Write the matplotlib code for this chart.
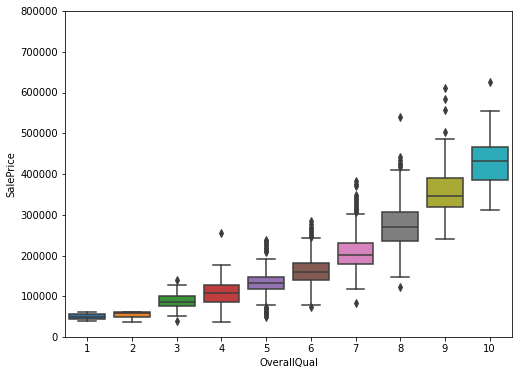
import matplotlib
matplotlib.use("Agg")
import matplotlib.pyplot as plt

# box statistics, one entry per OverallQual level
quals = [1, 2, 3, 4, 5, 6, 7, 8, 9, 10]
medians = [50150, 58000, 86500, 108500, 133000, 160000, 202000, 270000, 346000, 432000]
q1s = [44700, 50000, 76000, 86600, 118000, 140000, 179000, 235500, 320000, 385000]
q3s = [55600, 62500, 100500, 127000, 148000, 182000, 231000, 307500, 391000, 467000]
wlo = [39300, 37000, 52000, 36000, 78500, 78500, 118500, 147000, 240500, 311700]
whi = [61000, 62500, 128500, 177000, 192000, 243500, 302500, 410500, 486500, 555000]
fliers = [
    [],
    [],
    [39300, 139600],
    [256000],
    [50000, 53000, 56000, 59000, 62000, 65000, 68000, 71000, 74000,
     209000, 212000, 215000, 219000, 223000, 227000, 231000, 235000, 238000],
    [73000, 246000, 250000, 255000, 260000, 265000, 271000, 277000, 284000],
    [82500, 307000, 311000, 315000, 319000, 323000, 328000, 333000, 338000,
     344000, 348000, 370000, 376000, 383000],
    [122000, 418000, 423000, 428000, 435000, 441000, 539000],
    [503000, 557000, 583000, 612000],
    [625000],
]
colors = ['#3274a1', '#e1812c', '#3a923a', '#c03d3e', '#9372b2',
          '#845b53', '#d684bd', '#7f7f7f', '#a9aa35', '#2eabb8']
gray = '#3d3d3d'

stats = []
for i in range(len(quals)):
    stats.append(dict(med=medians[i], q1=q1s[i], q3=q3s[i],
                      whislo=wlo[i], whishi=whi[i], fliers=fliers[i]))

fig = plt.figure(figsize=(522 / 72, 375 / 72), dpi=72)
ax = fig.add_axes([65 / 522, 38 / 375, 447 / 522, 326 / 375])

bp = ax.bxp(stats, positions=range(len(quals)), widths=0.8,
            patch_artist=True, manage_ticks=False,
            boxprops=dict(edgecolor=gray, linewidth=1.5),
            medianprops=dict(color=gray, linewidth=1.5),
            whiskerprops=dict(color=gray, linewidth=1.5),
            capprops=dict(color=gray, linewidth=1.5),
            flierprops=dict(marker='d', markerfacecolor=gray,
                            markeredgecolor=gray, markersize=5))
for patch, c in zip(bp['boxes'], colors):
    patch.set_facecolor(c)

ax.set_xticks(range(len(quals)))
ax.set_xticklabels([str(q) for q in quals])
ax.set_xlim(-0.5, len(quals) - 0.5)
ax.set_ylim(0, 800000)
ax.set_yticks(range(0, 800001, 100000))
ax.set_xlabel('OverallQual')
ax.set_ylabel('SalePrice')

fig.savefig('out.png', dpi=72)
